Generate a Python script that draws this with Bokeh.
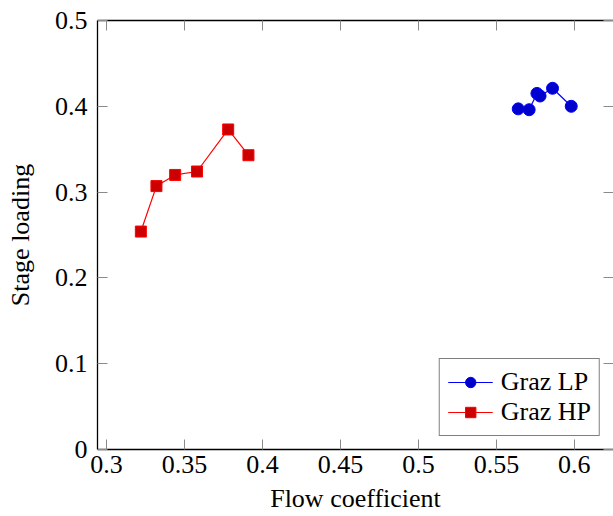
from bokeh.plotting import figure
from bokeh.models import Range1d, FixedTicker, LinearAxis
from bokeh.embed import file_html
from bokeh.resources import INLINE

lp_x = [0.564, 0.571, 0.576, 0.578, 0.586, 0.598]
lp_y = [0.397, 0.396, 0.415, 0.412, 0.421, 0.400]
hp_x = [0.322, 0.332, 0.344, 0.358, 0.378, 0.391]
hp_y = [0.254, 0.307, 0.320, 0.324, 0.373, 0.343]

x_ticks = [0.3, 0.35, 0.4, 0.45, 0.5, 0.55, 0.6]
x_tick_labels = ["0.3", "0.35", "0.4", "0.45", "0.5", "0.55", "0.6"]
y_ticks = [0, 0.1, 0.2, 0.3, 0.4, 0.5]
y_tick_labels = ["0", "0.1", "0.2", "0.3", "0.4", "0.5"]

FONT = "Liberation Serif"
FS = "26px"

p = figure(width=613, height=516, output_backend="svg", toolbar_location=None,
           x_range=Range1d(0.2942, 0.6251), y_range=Range1d(0, 0.5),
           min_border_left=97, min_border_right=0, min_border_top=20, min_border_bottom=67,
           x_axis_label="Flow coefficient", y_axis_label="Stage loading")
p.outline_line_color = None
p.grid.visible = False
p.background_fill_color = "white"
p.border_fill_color = "white"

def style_axis(ax, ticks, labels, show_labels=True, show_line=True):
    ax.ticker = FixedTicker(ticks=ticks)
    ax.major_label_overrides = {t: l for t, l in zip(ticks, labels)}
    ax.minor_tick_line_color = None
    ax.major_tick_in = 10
    ax.major_tick_out = 0
    ax.major_tick_line_color = "#8a8a8a"
    ax.major_tick_line_width = 1
    ax.axis_line_color = "black" if show_line else None
    ax.axis_line_width = 1.3
    ax.major_label_text_font = FONT
    ax.major_label_text_color = "black"
    if show_labels:
        ax.major_label_text_font_size = FS
    else:
        ax.major_label_text_font_size = "0px"
        ax.major_label_standoff = 0

xa = p.xaxis[0]
ya = p.yaxis[0]
style_axis(xa, x_ticks, x_tick_labels)
style_axis(ya, y_ticks, y_tick_labels)
xa.major_label_standoff = 6
ya.major_label_standoff = 10
for ax in (xa, ya):
    ax.axis_label_text_font = FONT
    ax.axis_label_text_font_size = FS
    ax.axis_label_text_font_style = "normal"
    ax.axis_label_text_color = "black"
xa.axis_label_standoff = 8
ya.axis_label_standoff = 17

top = LinearAxis()
style_axis(top, x_ticks, x_tick_labels, show_labels=False, show_line=True)
p.add_layout(top, "above")
right = LinearAxis()
style_axis(right, y_ticks, y_tick_labels, show_labels=False, show_line=False)
p.add_layout(right, "right")

p.line(lp_x, lp_y, line_color="#0000ff", line_width=1.2, legend_label="Graz LP")
p.scatter(lp_x, lp_y, marker="circle", size=12, fill_color="#0000cc",
          line_color="#0000ff", line_width=1, legend_label="Graz LP")
p.line(hp_x, hp_y, line_color="#ff0000", line_width=1.2, legend_label="Graz HP")
p.scatter(hp_x, hp_y, marker="square", size=11, fill_color="#cc0000",
          line_color="#ff0000", line_width=1, legend_label="Graz HP")

lg = p.legend[0]
lg.location = "bottom_right"
lg.margin = 13
lg.padding = 8
lg.spacing = 0
lg.label_height = 26
lg.glyph_height = 26
lg.glyph_width = 45
lg.label_standoff = 8
lg.label_text_font = FONT
lg.label_text_font_size = FS
lg.label_text_color = "black"
lg.border_line_color = "black"
lg.border_line_width = 1.2
lg.background_fill_alpha = 1

open("out.html", "w").write(file_html(p, INLINE))
